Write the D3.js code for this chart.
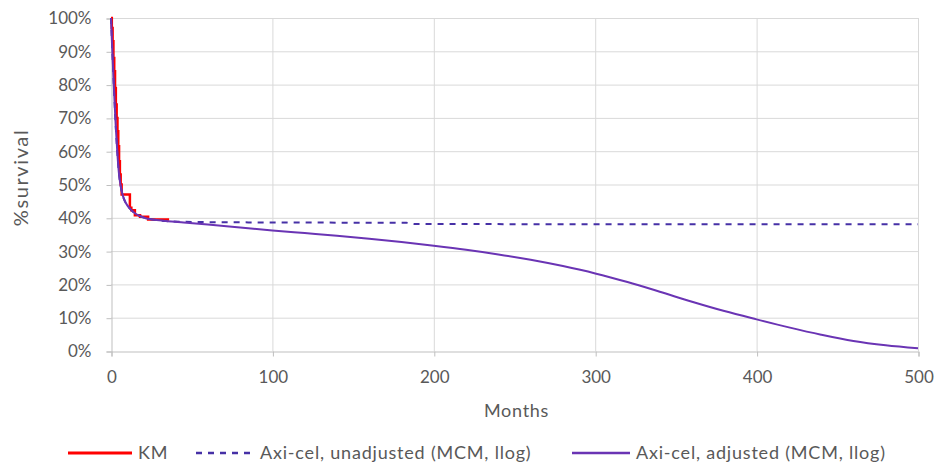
<!DOCTYPE html>
<html>
<head>
<meta charset="utf-8">
<script src="https://cdn.jsdelivr.net/npm/d3@7"></script>
<style>
  html, body { margin: 0; padding: 0; background: #fff; }
  svg text { font-family: Lato, "Open Sans", sans-serif; fill: #595959; }
</style>
</head>
<body>
<svg id="chart" width="937" height="465"></svg>
<script>
// Kaplan-Meier overall survival (months, % surviving)
const kmMonths = [0, 0.5, 1, 1.5, 2, 2.5, 3, 3.5, 4, 4.5, 5, 5.5, 6, 6.6, 11.7, 12.6, 14.8, 18, 23, 36];
const kmSurvival = [100, 97, 93, 88, 84, 79, 74, 70, 66, 61.5, 57, 53, 50, 47, 43, 42.3, 40.8, 40.3, 39.5, 39.5];

// Mixture cure model, log-logistic, no background mortality adjustment
const unadjMonths = [0, 1, 2, 3, 4, 5, 6, 7, 8, 10, 12, 15, 18, 22, 27, 35, 45, 60, 100, 140, 183, 188, 250, 350, 500];
const unadjSurvival = [100, 88, 77, 67, 59, 53, 49.5, 47.3, 45.7, 43.8, 42.6, 41.3, 40.5, 39.9, 39.4, 39.0, 38.8, 38.7, 38.6, 38.55, 38.5, 38.15, 38.1, 38.1, 38.1];

// Mixture cure model, log-logistic, adjusted for general population mortality
const adjMonths = [0, 1, 2, 3, 4, 5, 6, 7, 8, 10, 12, 15, 18, 22, 27, 35, 45, 60, 80, 100, 120, 140, 160, 180, 200, 220, 240, 260, 280, 300, 320, 340, 360, 380, 400, 420, 440, 460, 480, 500];
const adjSurvival = [100, 88, 77, 67, 59, 53, 49.5, 47.3, 45.7, 43.8, 42.6, 41.3, 40.5, 39.8, 39.4, 39.0, 38.6, 38.0, 37.1, 36.2, 35.4, 34.6, 33.7, 32.7, 31.6, 30.4, 29.0, 27.4, 25.5, 23.3, 20.7, 17.8, 14.8, 12.0, 9.5, 7.1, 4.9, 3.0, 1.7, 0.8];

const xTicks = [0, 100, 200, 300, 400, 500];
const yTicks = [0, 10, 20, 30, 40, 50, 60, 70, 80, 90, 100];

const legendLabels = ["KM", "Axi-cel, unadjusted (MCM, llog)", "Axi-cel, adjusted (MCM, llog)"];

const svg = d3.select("#chart");
const x = d3.scaleLinear().domain([0, 500]).range([111, 918]);
const y = d3.scaleLinear().domain([0, 100]).range([351, 18]);

const gridColor = "#D9D9D9";
const axisColor = "#BFBFBF";

// horizontal gridlines
svg.append("g").selectAll("line").data(yTicks.filter(d => d > 0)).join("line")
  .attr("x1", x(0)).attr("x2", x(500))
  .attr("y1", d => y(d) + 0.5).attr("y2", d => y(d) + 0.5)
  .attr("stroke", gridColor).attr("stroke-width", 1);

// vertical gridlines
svg.append("g").selectAll("line").data(xTicks.filter(d => d > 0)).join("line")
  .attr("x1", d => x(d) + 0.5).attr("x2", d => x(d) + 0.5)
  .attr("y1", y(0)).attr("y2", y(100))
  .attr("stroke", gridColor).attr("stroke-width", 1);

// y axis
const yAxis = svg.append("g")
  .attr("transform", `translate(${x(0) + 0.5},0.5)`)
  .call(d3.axisLeft(y).tickValues(yTicks).tickFormat(d => d + "%").tickSizeOuter(0).tickSize(5).tickPadding(15));
yAxis.select(".domain").attr("stroke", axisColor);
yAxis.selectAll(".tick line").attr("stroke", axisColor);
yAxis.selectAll(".tick text").style("font-size", "17px").attr("fill", "#595959");

// x axis
const xAxis = svg.append("g")
  .attr("transform", `translate(0.5,${y(0) + 0.5})`)
  .call(d3.axisBottom(x).tickValues(xTicks).tickFormat(d3.format("d")).tickSizeOuter(0).tickSize(5).tickPadding(14));
xAxis.select(".domain").attr("stroke", axisColor);
xAxis.selectAll(".tick line").attr("stroke", axisColor);
xAxis.selectAll(".tick text").style("font-size", "17px").attr("fill", "#595959");

// axis titles
svg.append("text")
  .attr("x", (x(0) + x(500)) / 2 + 2).attr("y", 417)
  .attr("text-anchor", "middle").style("font-size", "18px").style("letter-spacing", "0.7px")
  .text("Months");
svg.append("text")
  .attr("transform", `translate(28,${(y(0) + y(100)) / 2 - 7}) rotate(-90)`)
  .attr("text-anchor", "middle").style("font-size", "20px").style("letter-spacing", "1.6px")
  .text("%survival");

// curves
const smooth = d3.line().x(d => x(d[0])).y(d => y(d[1])).curve(d3.curveMonotoneX);
const spline = d3.line().x(d => x(d[0])).y(d => y(d[1])).curve(d3.curveCatmullRom.alpha(0.5));
const stepLine = d3.line().x(d => x(d[0])).y(d => y(d[1])).curve(d3.curveStepAfter);

const kmData = d3.zip(kmMonths, kmSurvival);
const unadjData = d3.zip(unadjMonths, unadjSurvival);
const adjData = d3.zip(adjMonths, adjSurvival);

const styles = [
  { color: "#FF0000", width: 2.5, dash: null },
  { color: "#4630A6", width: 2, dash: "6,6" },
  { color: "#6A34B4", width: 2, dash: null }
];

svg.append("path").datum(kmData).attr("d", stepLine)
  .attr("fill", "none").attr("stroke", styles[0].color).attr("stroke-width", styles[0].width);
svg.append("path").datum(unadjData).attr("d", smooth)
  .attr("fill", "none").attr("stroke", styles[1].color).attr("stroke-width", styles[1].width)
  .attr("stroke-dasharray", styles[1].dash);
svg.append("path").datum(adjData).attr("d", spline)
  .attr("fill", "none").attr("stroke", styles[2].color).attr("stroke-width", styles[2].width);

// legend
const legendX = [[68, 132], [196, 254], [572, 630]];
const legendY = 453;
const lg = svg.append("g");
legendLabels.forEach((label, i) => {
  lg.append("line")
    .attr("x1", legendX[i][0]).attr("x2", legendX[i][1])
    .attr("y1", legendY).attr("y2", legendY)
    .attr("stroke", styles[i].color).attr("stroke-width", styles[i].width + 0.5)
    .attr("stroke-dasharray", styles[i].dash);
  lg.append("text")
    .attr("x", legendX[i][1] + 6).attr("y", legendY).attr("dy", "0.35em")
    .style("font-size", "18px").style("letter-spacing", "0.8px")
    .text(label);
});
</script>
</body>
</html>
